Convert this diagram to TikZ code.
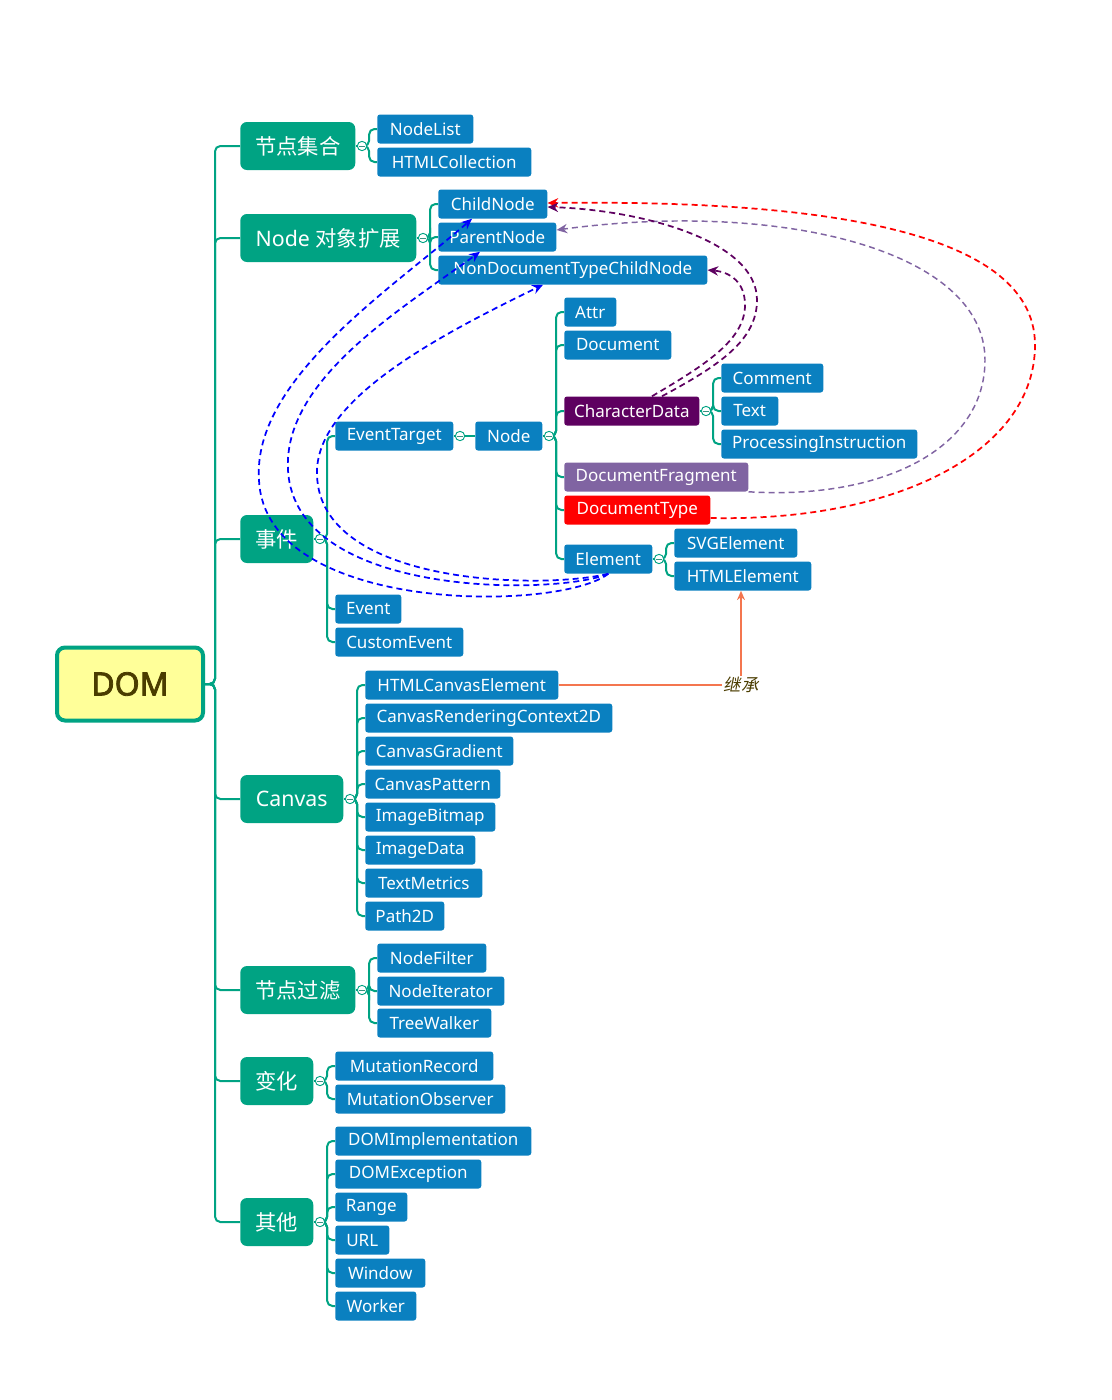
\documentclass[tikz,border=0pt]{standalone}
\usepackage{fontspec}
\setmainfont{Noto Sans}
\newfontfamily\cjk{Noto Sans CJK SC}
\newfontfamily\cjkslant{Noto Sans CJK SC}[FakeSlant=0.2]
\newfontfamily\rootfont{Noto Sans}[FakeBold=2.5]
\usetikzlibrary{arrows.meta}
\definecolor{mmgreen}{HTML}{00A383}
\definecolor{mmblue}{HTML}{0A80C0}
\definecolor{mmplum}{HTML}{5E0060}
\definecolor{mmlav}{HTML}{8064A2}
\definecolor{mmred}{HTML}{FF0000}
\definecolor{mmorange}{HTML}{F4764F}
\definecolor{mmolive}{HTML}{4A3C00}
\definecolor{mmyellow}{HTML}{FFFF99}
\definecolor{mmdash}{HTML}{0000FF}
\pgfdeclarelayer{bg}
\pgfsetlayers{bg,main}
\begin{document}
\begin{tikzpicture}[x=0.75pt,y=-0.75pt,
  link/.style={draw=mmgreen, line width=1.5pt, rounded corners=4pt},
  cat/.style={fill=mmgreen, rounded corners=5pt, text=white,
    font=\fontsize{16}{19}\selectfont, minimum height=36pt, anchor=west, inner sep=0pt},
  leaf/.style={fill=mmblue, rounded corners=2pt, text=white,
    font=\fontsize{12.75}{15}\selectfont, minimum height=21.75pt, anchor=west, inner sep=0pt},
  wd/.style={minimum width=#1*0.75pt},
  fold/.style={circle, draw=mmgreen, fill=white, line width=0.7pt, minimum size=7pt, inner sep=0pt,
    path picture={\draw[mmgreen!55!gray, line width=0.6pt]
      ([xshift=1.6pt]path picture bounding box.west) -- ([xshift=-1.6pt]path picture bounding box.east);}},
  rel/.style={dash pattern=on 4.5pt off 3pt, line width=1.3pt},
  tip/.style={-{Stealth[length=8pt,width=7pt]}},
]
\useasboundingbox (0,0) rectangle (1112,1400);

% root
\node[draw=mmgreen, line width=3pt, fill=mmyellow, rounded corners=6pt,
  minimum width=146*0.75pt, minimum height=73*0.75pt, text=mmolive,
  font=\fontsize{24}{28}\selectfont\rootfont] (DOM) at (130,684) {DOM};

% categories
\node[cat, wd=115] (cA) at (240,146)  {\cjk 节点集合};
\node[cat, wd=176] (cB) at (240,238)  {Node {\cjk 对象扩展}};
\node[cat, wd=73]  (cC) at (240,539)  {\cjk 事件};
\node[cat, wd=103] (cD) at (240,799)  {Canvas};
\node[cat, wd=115] (cE) at (240,990)  {\cjk 节点过滤};
\node[cat, wd=73]  (cF) at (240,1081) {\cjk 变化};
\node[cat, wd=73]  (cG) at (240,1222) {\cjk 其他};

% node collections
\node[leaf, wd=96]  (NodeList) at (377,129) {NodeList};
\node[leaf, wd=154] (HTMLCollection) at (377,162) {HTMLCollection};

% Node mixins
\node[leaf, wd=109] (ChildNode) at (438,204) {ChildNode};
\node[leaf, wd=118] (ParentNode) at (438,237) {ParentNode};
\node[leaf, wd=269] (NonDoc) at (438,270) {NonDocumentTypeChildNode};

% events and the node hierarchy
\node[leaf, wd=118] (EventTarget) at (335,436) {EventTarget};
\node[leaf, wd=67]  (Node) at (475,436) {Node};
\node[leaf, wd=66]  (Event) at (335,609) {Event};
\node[leaf, wd=128] (CustomEvent) at (335,642) {CustomEvent};

\node[leaf, wd=52]  (Attr) at (564,312) {Attr};
\node[leaf, wd=107] (Document) at (564,345) {Document};
\node[leaf, wd=135, fill=mmplum] (CharacterData) at (564,411) {CharacterData};
\node[leaf, wd=184, fill=mmlav] (DocumentFragment) at (564,477) {DocumentFragment};
\node[leaf, wd=146, fill=mmred] (DocumentType) at (564,510) {DocumentType};
\node[leaf, wd=88]  (Element) at (564,559) {Element};

\node[leaf, wd=102] (Comment) at (721,378) {Comment};
\node[leaf, wd=57]  (Text) at (721,411) {Text};
\node[leaf, wd=196] (PInstr) at (721,444) {ProcessingInstruction};

\node[leaf, wd=123] (SVGElement) at (674,543) {SVGElement};
\node[leaf, wd=137] (HTMLElement) at (674,576) {HTMLElement};

% canvas
\node[leaf, wd=193] (HTMLCanvasElement) at (365,685) {HTMLCanvasElement};
\node[leaf, wd=247] (CRC2D) at (365,718) {CanvasRenderingContext2D};
\node[leaf, wd=148] (CanvasGradient) at (365,751) {CanvasGradient};
\node[leaf, wd=135] (CanvasPattern) at (365,784) {CanvasPattern};
\node[leaf, wd=130] (ImageBitmap) at (365,817) {ImageBitmap};
\node[leaf, wd=110] (ImageData) at (365,850) {ImageData};
\node[leaf, wd=117] (TextMetrics) at (365,883) {TextMetrics};
\node[leaf, wd=79]  (Path2D) at (365,916) {Path2D};

% traversal
\node[leaf, wd=109] (NodeFilter) at (377,958) {NodeFilter};
\node[leaf, wd=127] (NodeIterator) at (377,991) {NodeIterator};
\node[leaf, wd=114] (TreeWalker) at (377,1023) {TreeWalker};

% mutation
\node[leaf, wd=158] (MutationRecord) at (335,1066) {MutationRecord};
\node[leaf, wd=170] (MutationObserver) at (335,1099) {MutationObserver};

% misc
\node[leaf, wd=196] (DOMImplementation) at (335,1141) {DOMImplementation};
\node[leaf, wd=146] (DOMException) at (335,1174) {DOMException};
\node[leaf, wd=72]  (Range) at (335,1207) {Range};
\node[leaf, wd=54]  (URL) at (335,1240) {URL};
\node[leaf, wd=90]  (Window) at (335,1273) {Window};
\node[leaf, wd=81]  (Worker) at (335,1306) {Worker};

% fold markers
\node[fold] (fA) at (362,146) {};
\node[fold] (fB) at (423,238) {};
\node[fold] (fC) at (320,539) {};
\node[fold] (fET) at (460,436) {};
\node[fold] (fN) at (549,436) {};
\node[fold] (fCD) at (706,411) {};
\node[fold] (fEl) at (659,559) {};
\node[fold] (fD) at (350,799) {};
\node[fold] (fE) at (362,990) {};
\node[fold] (fF) at (320,1081) {};
\node[fold] (fG) at (320,1222) {};

% inheritance label
\node[font=\fontsize{13}{15}\selectfont\cjkslant, text=mmolive, inner sep=1pt] (inh) at (741,685) {继承};

% tree connectors
\begin{pgfonlayer}{bg}
\foreach \c in {cA,cB,cC,cD,cE,cF,cG}
  \draw[link] (DOM.east) -- ++(10,0) |- (\c.west);
\foreach \p/\f in {cA/fA,cB/fB,cC/fC,cD/fD,cE/fE,cF/fF,cG/fG,Node/fN,CharacterData/fCD,Element/fEl}
  \draw[link] (\p.east) -- (\f.west);
\draw[link] (EventTarget.east) -- (Node.west);
\foreach \f/\k in {fA/NodeList,fA/HTMLCollection,
    fB/ChildNode,fB/ParentNode,fB/NonDoc,
    fC/EventTarget,fC/Event,fC/CustomEvent,
    fN/Attr,fN/Document,fN/CharacterData,fN/DocumentFragment,fN/DocumentType,fN/Element,
    fCD/Comment,fCD/Text,fCD/PInstr,
    fEl/SVGElement,fEl/HTMLElement,
    fD/HTMLCanvasElement,fD/CRC2D,fD/CanvasGradient,fD/CanvasPattern,
    fD/ImageBitmap,fD/ImageData,fD/TextMetrics,fD/Path2D,
    fE/NodeFilter,fE/NodeIterator,fE/TreeWalker,
    fF/MutationRecord,fF/MutationObserver,
    fG/DOMImplementation,fG/DOMException,fG/Range,fG/URL,fG/Window,fG/Worker}
  \draw[link] (\f.east) -- ++(2,0) |- (\k.west);
\end{pgfonlayer}

% inheritance arrow
\draw[mmorange, line width=1.1pt] (HTMLCanvasElement.east) -- (inh.west);
\draw[mmorange, line width=1.1pt, -{Stealth[length=7pt,width=6pt]}] (inh.north) -- (inh.north |- HTMLElement.south);

% mixin relations
\draw[rel, tip, mmred] ([yshift=-8*0.75pt]DocumentType.east)
  .. controls (900,522) and (1035,450) .. (1035,345)
  .. controls (1035,225) and (800,200) .. ([yshift=1*0.75pt]ChildNode.east);
\draw[rel, tip, mmlav, line width=1.1pt] (DocumentFragment.south east)
  .. controls (880,500) and (985,450) .. (985,360)
  .. controls (985,250) and (780,200) .. ([yshift=7*0.75pt]ParentNode.east);
\draw[rel, tip, mmplum] ([xshift=98*0.75pt]CharacterData.north west)
  .. controls (720,365) and (757,340) .. (757,300)
  .. controls (757,240) and (640,210) .. ([yshift=-3*0.75pt]ChildNode.east);
\draw[rel, tip, mmplum] ([xshift=88*0.75pt]CharacterData.north west)
  .. controls (705,365) and (745,340) .. (745,305)
  .. controls (745,282) and (730,272) .. (NonDoc.east);
\draw[rel, tip, mmdash] (Element.south)
  .. controls (560,612) and (265,615) .. (259,480)
  .. controls (252,380) and (390,290) .. ([xshift=34*0.75pt]ChildNode.south west);
\draw[rel, tip, mmdash] (Element.south)
  .. controls (560,595) and (295,600) .. (288,470)
  .. controls (283,380) and (400,310) .. ([xshift=42*0.75pt]ParentNode.south west);
\draw[rel, tip, mmdash] (Element.south)
  .. controls (540,590) and (320,585) .. (317,475)
  .. controls (314,400) and (440,335) .. ([xshift=105*0.75pt]NonDoc.south west);
\end{tikzpicture}
\end{document}
